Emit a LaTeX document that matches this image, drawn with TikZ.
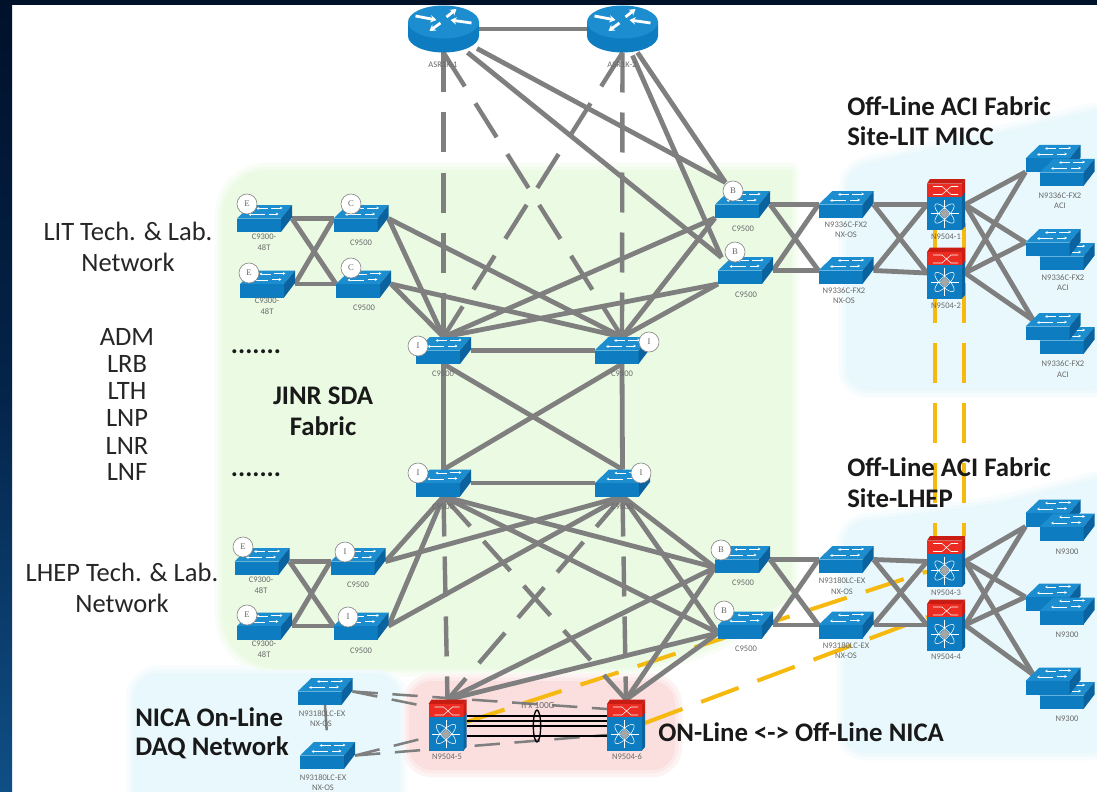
\documentclass[tikz,border=0pt]{standalone}
\usepackage{fontspec}
\setmainfont{Carlito}
\newfontfamily\bdgfont{Liberation Serif}
\usetikzlibrary{arrows.meta,calc,shapes.geometric}
\definecolor{linegray}{HTML}{7F7F7F}
\definecolor{frametop}{HTML}{00112A}
\definecolor{framemid}{HTML}{04244A}
\definecolor{framebot}{HTML}{0F4F86}
\definecolor{greenreg}{HTML}{EBFAE3}
\definecolor{bluereg}{HTML}{E8F8FC}
\definecolor{pinkreg}{HTML}{FBDEDE}
\definecolor{swfront}{HTML}{0E7CC1}
\definecolor{swtop}{HTML}{1C8DCF}
\definecolor{swside}{HTML}{0A639F}
\definecolor{redfront}{HTML}{EC2C22}
\definecolor{redtop}{HTML}{C91D14}
\definecolor{yell}{HTML}{F5B90F}
\definecolor{lblgray}{HTML}{6A6A6A}
\tikzset{
  swn/.style={minimum width=41.25pt,minimum height=20.25pt,inner sep=0pt,outer sep=0pt},
  rtn/.style={minimum width=53.25pt,minimum height=35.25pt,inner sep=0pt,outer sep=0pt},
  chn/.style={minimum width=28.5pt,minimum height=38pt,inner sep=0pt,outer sep=0pt},
  conn/.style={draw=linegray,line width=3.6pt},
  dashc/.style={draw=linegray,line width=3.3pt,dash pattern=on 30pt off 15pt},
  thind/.style={draw=linegray,line width=1.9pt,dash pattern=on 19pt off 11pt},
  yelld/.style={draw=yell,line width=3pt,dash pattern=on 30pt off 15pt},
  blackl/.style={draw=black,line width=1.1pt},
  lbl/.style={font=\fontsize{6.4pt}{7pt}\selectfont,text=lblgray,inner sep=0pt},
  bigt/.style={font=\fontsize{19.9pt}{22pt}\selectfont,text=black!85,inner sep=0pt},
  boldt/.style={font=\fontsize{20.1pt}{23pt}\selectfont\bfseries,text=black!90,inner sep=0pt},
  bdg/.style={circle,draw=black!45,fill=white,line width=.5pt,minimum size=15pt,inner sep=0pt,
     font=\fontsize{6.5pt}{6.5pt}\selectfont\bdgfont,text=black!60},
  swarrow/.style={draw=white,line width=.7pt,-{Stealth[length=2pt,width=2pt]}},
  rtarrow/.style={draw=white,line width=2.1pt,-{Stealth[length=4.5pt,width=5.5pt]}},
  sw/.pic={
    \fill[swtop] (-27.5,0)--(-13.5,-13.5)--(27.5,-13.5)--(16.5,0)--cycle;
    \fill[swfront] (-27.5,0) rectangle (16.5,13.5);
    \fill[swside] (16.5,0)--(27.5,-13.5)--(27.5,-1)--(16.5,13.5)--cycle;
    \draw[swarrow] (6,-10.5)--(18,-10.5);
    \draw[swarrow] (3,-10)--(-8,-10);
    \draw[swarrow] (4,-4.5)--(14,-4.5);
    \draw[swarrow] (0,-4)--(-16,-4);
  },
  rtr/.pic={
    \fill[swfront] (-35.5,-7)--(-35.5,7) arc[start angle=180,end angle=0,x radius=35.5,y radius=16.5]--(35.5,-7)--cycle;
    \fill[swtop] (0,-7) ellipse[x radius=35.5,y radius=16.5];
    \draw[rtarrow] (-28,-13)--(-7,-9);
    \draw[rtarrow] (28,-6)--(7,-9);
    \draw[rtarrow] (3,-12)--(13,-20);
    \draw[rtarrow] (-3,-6)--(-14,2);
  },
  chs/.pic={
    \fill[redtop] (-19,-21)--(-16,-25.5)--(19,-25.5)--(16,-21)--cycle;
    \fill[redfront] (-19,-21) rectangle (16,-7);
    \fill[redtop] (16,-21)--(19,-25.5)--(19,-11)--(16,-7)--cycle;
    \draw[white,line width=.4pt] (-13,-18)--(-4,-18)--(5,-10)--(12,-10) (-13,-10)--(-4,-10)--(5,-18)--(12,-18);
    \fill[swfront] (-19,-8) rectangle (16,25.5);
    \fill[swside] (16,-8)--(19,-12)--(19,22)--(16,25.5)--cycle;
    \begin{scope}[shift={(-1.5,9)}]
      \draw[white,line width=.4pt,rotate=45] (0,0) ellipse[x radius=13,y radius=4.5];
      \draw[white,line width=.4pt,rotate=-45] (0,0) ellipse[x radius=13,y radius=4.5];
      \draw[white,line width=.5pt] (-14,0)--(14,0) (0,-14)--(0,14);
      \fill[black!35] (-5,0)--(0,-5)--(5,0)--(0,5)--cycle;
    \end{scope}
  },
}
\begin{document}
\begin{tikzpicture}[x=0.75pt,y=-0.75pt]
\useasboundingbox (0,0) rectangle (1097,792);
\fill[white] (0,0) rectangle (1097,792);
% regions
\foreach \wid/\mix in {14pt/35,8pt/65,3pt/100}{
  \path[draw=greenreg!\mix!white,fill=greenreg,line width=\wid,line join=round]
    (224,400)[rounded corners=32pt]--(224,172)[sharp corners]--(790,172)--(790,595)[rounded corners=20pt]--(715,645)--(640,667)[rounded corners=40pt]--(224,667)[sharp corners]--cycle;
  \path[draw=bluereg!\mix!white,fill=bluereg,line width=\wid,line join=round,rounded corners=14pt]
    (848,170)--(1000,135)--(1110,108)--(1110,388)--(848,388)--cycle;
  \path[draw=bluereg!\mix!white,fill=bluereg,line width=\wid,line join=round,rounded corners=14pt]
    (846,525)--(1000,505)--(1110,477)--(1110,751)--(846,751)--cycle;
  \path[draw=bluereg!\mix!white,fill=bluereg,line width=\wid,line join=round,rounded corners=18pt]
    (135,675)--(398,675)--(398,810)--(135,810)--cycle;
  \path[draw=pinkreg!\mix!white,fill=pinkreg,line width=\wid,line join=round,rounded corners=16pt]
    (411,683)--(673,683)--(673,768)--(411,768)--cycle;
}
% frame
\shade[top color=frametop,bottom color=framebot,middle color=framemid] (0,0) rectangle (12,792);
\fill[frametop] (0,0) rectangle (1097,5);
% device anchors
\node[rtn] (R1) at (443.5,29) {};
\node[rtn] (R2) at (622.5,29) {};
\node[swn] (E1) at (264.5,218.5) {};
\node[swn] (E2) at (267.5,284) {};
\node[swn] (C1) at (361,218.5) {};
\node[swn] (C2) at (363.5,284) {};
\node[swn] (ITL) at (443.5,350.5) {};
\node[swn] (ITR) at (622,350.5) {};
\node[swn] (IBL) at (443.5,483) {};
\node[swn] (IBR) at (622.5,483) {};
\node[swn] (B1) at (742.5,204.5) {};
\node[swn] (B2) at (745.5,270.5) {};
\node[swn] (N1) at (846,204.5) {};
\node[swn] (N2) at (846,270.5) {};
\node[chn] (CH1) at (946,204.5) {};
\node[chn] (CH2) at (946,273) {};
\node[swn] (A1) at (1053,158.5) {};
\node[swn] (A1f) at (1067,172.5) {};
\node[swn] (A2) at (1053,242.5) {};
\node[swn] (A2f) at (1067,256.5) {};
\node[swn] (A3) at (1053,326.5) {};
\node[swn] (A3f) at (1067,340.5) {};
\node[swn] (E3) at (262,561.5) {};
\node[swn] (E4) at (264.5,626) {};
\node[swn] (I3) at (358,561.5) {};
\node[swn] (I4) at (361,626) {};
\node[swn] (B3) at (742.5,559.5) {};
\node[swn] (B4) at (745.5,625) {};
\node[swn] (N3) at (846,559.5) {};
\node[swn] (N4) at (846,625) {};
\node[chn] (CH3) at (946,561.5) {};
\node[chn] (CH4) at (946,625) {};
\node[swn] (A4) at (1053,513) {};
\node[swn] (A4f) at (1067,527) {};
\node[swn] (A5) at (1053,597) {};
\node[swn] (A5f) at (1067,611) {};
\node[swn] (A6) at (1053,681) {};
\node[swn] (A6f) at (1067,695.5) {};
\node[chn] (CH5) at (447.5,725) {};
\node[chn] (CH6) at (626,725) {};
\node[swn] (D1) at (325,691.5) {};
\node[swn] (D2) at (327.5,755.5) {};
% attachment points
\coordinate (R1a) at ($(R1.south east)+(-2,-4)$);
\coordinate (R1b) at ($(R1.south)+(24,0)$);
\coordinate (R2a) at ($(R2.south)+(15,0)$);
\coordinate (R2b) at ($(R2.south)+(10,3)$);
\coordinate (B1t) at ($(B1.center)+(-17,-22)$);
\coordinate (B2t) at ($(B2.center)+(-24,-13)$);
\coordinate (B3l) at ($(B3.west)+(0,8)$);
\coordinate (B4l) at ($(B4.west)+(0,8)$);
\coordinate (A3t) at ($(A3.west)+(8,-6)$);
\coordinate (A6t) at ($(A6.west)+(8,-6)$);
\coordinate (Y1s) at ($(CH1.center)+(-11,18.5)$);
\coordinate (Y2s) at ($(CH1.center)+(18,18.5)$);
\coordinate (Y1e) at ($(CH3.north)+(-11,0)$);
\coordinate (Y2e) at ($(CH3.north)+(18,0)$);
\coordinate (Y3s) at ($(CH5.east)+(0,-3)$);
\coordinate (Y3e) at ($(CH3.west)+(0,10)$);
\coordinate (Y4s) at ($(CH6.east)+(0,-2)$);
\coordinate (Y4e) at ($(CH4.west)+(0,-8)$);
% yellow links
\draw[yelld] (Y1s)--(Y1e);
\draw[yelld] (Y2s)--(Y2e);
\draw[yelld] (Y3s)--(Y3e);
\draw[yelld] (Y4s)--(Y4e);
% dashed trunks
\foreach \a/\b in {R1.south/ITL.north,R2.south/ITR.north,R1.south/ITR.north,R2.south/ITL.north,
  IBL.south/CH5.north,IBR.south/CH6.north,IBL.south/CH6.north,IBR.south/CH5.north}
  \draw[dashc] (\a)--(\b);
% solid links
\foreach \a/\b in {R1.east/R2.west,R1a/B1t,R1b/B2t,R2a/B1t,R2b/B2t,
  E1.east/C1.west,E1.east/C2.west,E2.east/C1.west,E2.east/C2.west,
  C1.east/ITL.north,C1.east/ITR.north,C2.east/ITL.north,C2.east/ITR.north,
  B1.south west/ITL.north,B1.south west/ITR.north,B2.south west/ITL.north,B2.south west/ITR.north,
  ITL.east/ITR.west,IBL.east/IBR.west,ITL.south/IBL.north,ITR.south/IBR.north,
  ITL.south/IBR.north,ITR.south/IBL.north,
  E3.east/I3.west,E3.east/I4.west,E4.east/I3.west,E4.east/I4.west,
  I3.east/IBL.south,I3.east/IBR.south,I4.east/IBL.south,I4.east/IBR.south,
  B3l/IBL.south,B3l/IBR.south,B4l/IBL.south,B4l/IBR.south,
  CH5.north/B3l,CH5.north/B4l,CH6.north/B3l,CH6.north/B4l,
  B1.east/N1.west,B1.east/N2.west,B2.east/N1.west,B2.east/N2.west,
  N1.east/CH1.west,N1.east/CH2.west,N2.east/CH1.west,N2.east/CH2.west,
  CH1.east/A1.south west,CH1.east/A2.west,CH1.east/A3t,CH2.east/A1.south west,CH2.east/A2.west,CH2.east/A3t,
  B3.east/N3.west,B3.east/N4.west,B4.east/N3.west,B4.east/N4.west,
  N3.east/CH3.west,N3.east/CH4.west,N4.east/CH3.west,N4.east/CH4.west,
  CH3.east/A4.south west,CH3.east/A5.west,CH3.east/A6t,CH4.east/A4.south west,CH4.east/A5.west,CH4.east/A6t}
  \draw[conn] (\a)--(\b);
% DAQ links
\draw[thind] (D1.east)--($(CH5.west)+(0,-18)$);
\draw[thind] (D1.east)--($(CH6.west)+(0,-16)$);
\draw[thind] (D2.east)--($(CH5.west)+(0,12)$);
\draw[thind] (D2.east)--($(CH6.west)+(0,10)$);
\draw[thind] (D1.south)--(D2.north);
% 100G bundle
\foreach \dy in {-9,-4,1,11}
  \draw[blackl] ($(CH5.east)+(0,\dy)$)--($(CH6.west)+(0,\dy)$);
\node[draw=black,line width=1pt,ellipse,minimum width=5.5pt,minimum height=24pt,inner sep=0pt] (bundle) at (537,726) {};
% icons
\foreach \p in {R1,R2}{\pic at (\p) {rtr};}
\foreach \p in {E1,E2,C1,C2,ITL,ITR,IBL,IBR,B1,B2,N1,N2,E3,E4,I3,I4,B3,B4,N3,N4,D1,D2,
   A1,A1f,A2f,A2,A3f,A3,A4,A4f,A5,A5f,A6f,A6}{\pic at (\p) {sw};}
\foreach \p in {CH1,CH2,CH3,CH4,CH5,CH6}{\pic at (\p) {chs};}
% badges
\node[bdg] (bE1) at (247,204) {E};
\node[bdg] (bE2) at (249,273) {E};
\node[bdg] (bC1) at (351,204) {C};
\node[bdg] (bC2) at (351,268) {C};
\node[bdg] (bI1) at (418,346) {I};
\node[bdg] (bI2) at (649,342) {I};
\node[bdg] (bI3) at (418,473) {I};
\node[bdg] (bI4) at (641,473) {I};
\node[bdg] (bB1) at (733,191) {B};
\node[bdg] (bB2) at (735,252) {B};
\node[bdg] (bE3) at (243,547) {E};
\node[bdg] (bE4) at (247,615) {E};
\node[bdg] (bI5) at (345,552) {I};
\node[bdg] (bI6) at (348,617) {I};
\node[bdg] (bB3) at (721,550) {B};
\node[bdg] (bB4) at (724,611) {B};
% small labels
\node[lbl] (l1) at (443,65) {ASR1K-1};
\node[lbl] (l2) at (622,65) {ASR1K-2};
\node[lbl] (l3) at (264,237) {C9300-};
\node[lbl] (l4) at (264,248) {48T};
\node[lbl] (l5) at (267,301) {C9300-};
\node[lbl] (l6) at (267,312) {48T};
\node[lbl] (l7) at (361,243) {C9500};
\node[lbl] (l8) at (364,308) {C9500};
\node[lbl] (l9) at (443,374) {C9500};
\node[lbl] (l10) at (622,374) {C9500};
\node[lbl] (l11) at (443,507) {C9500};
\node[lbl] (l12) at (622,507) {C9500};
\node[lbl] (l13) at (743,229) {C9500};
\node[lbl] (l14) at (746,295) {C9500};
\node[lbl] (l15) at (846,225) {N9336C-FX2};
\node[lbl] (l16) at (846,235) {NX-OS};
\node[lbl] (l17) at (844,291) {N9336C-FX2};
\node[lbl] (l18) at (844,301) {NX-OS};
\node[lbl] (l19) at (946,237) {N9504-1};
\node[lbl] (l20) at (946,306) {N9504-2};
\node[lbl] (l21) at (1060,196) {N9336C-FX2};
\node[lbl] (l22) at (1060,206) {ACI};
\node[lbl] (l23) at (1063,278) {N9336C-FX2};
\node[lbl] (l24) at (1063,288) {ACI};
\node[lbl] (l25) at (1063,364) {N9336C-FX2};
\node[lbl] (l26) at (1063,375) {ACI};
\node[lbl] (l27) at (261,580) {C9300-};
\node[lbl] (l28) at (261,591) {48T};
\node[lbl] (l29) at (264,644) {C9300-};
\node[lbl] (l30) at (264,655) {48T};
\node[lbl] (l31) at (358,585) {C9500};
\node[lbl] (l32) at (361,651) {C9500};
\node[lbl] (l33) at (743,583) {C9500};
\node[lbl] (l34) at (746,649) {C9500};
\node[lbl] (l35) at (842,581) {N93180LC-EX};
\node[lbl] (l36) at (842,592) {NX-OS};
\node[lbl] (l37) at (846,646) {N93180LC-EX};
\node[lbl] (l38) at (846,656) {NX-OS};
\node[lbl] (l39) at (946,593) {N9504-3};
\node[lbl] (l40) at (946,657) {N9504-4};
\node[lbl] (l41) at (1067,552) {N9300};
\node[lbl] (l42) at (1067,635) {N9300};
\node[lbl] (l43) at (1067,719) {N9300};
\node[lbl] (l44) at (447,757) {N9504-5};
\node[lbl] (l45) at (627,757) {N9504-6};
\node[lbl] (l46) at (322,714) {N93180LC-EX};
\node[lbl] (l47) at (321,724) {NX-OS};
\node[lbl] (l48) at (323,778) {N93180LC-EX};
\node[lbl] (l49) at (323,788) {NX-OS};
\node[lbl,font=\fontsize{7pt}{8pt}\selectfont] (l50) at (538,705) {n x 100G};
% text
\node[bigt] (t1) at (128,231) {LIT Tech. \& Lab.};
\node[bigt] (t2) at (128,262) {Network};
\node[bigt] (t3) at (127,337) {ADM};
\node[bigt] (t4) at (127,364) {LRB};
\node[bigt] (t5) at (127,391) {LTH};
\node[bigt] (t6) at (127,418) {LNP};
\node[bigt] (t7) at (127,446) {LNR};
\node[bigt] (t8) at (127,472) {LNF};
\node[bigt] (t9) at (122,572) {LHEP Tech. \& Lab.};
\node[bigt] (t10) at (122,603) {Network};
\node[boldt] (t11) at (256,352) {.......};
\node[boldt] (t12) at (256,475) {.......};
\node[boldt] (t13) at (323,396) {JINR SDA};
\node[boldt] (t14) at (323,426) {Fabric};
\node[boldt,anchor=west] (t15) at (847,106) {Off-Line ACI Fabric};
\node[boldt,anchor=west] (t16) at (847,136) {Site-LIT MICC};
\node[boldt,anchor=west] (t17) at (847,467) {Off-Line ACI Fabric};
\node[boldt,anchor=west] (t18) at (847,498) {Site-LHEP};
\node[boldt,anchor=west] (t19) at (135,717) {NICA On-Line};
\node[boldt,anchor=west] (t20) at (135,748) {DAQ Network};
\node[boldt,anchor=west] (t21) at (658,732) {ON-Line <-> Off-Line NICA};
\end{tikzpicture}
\end{document}
